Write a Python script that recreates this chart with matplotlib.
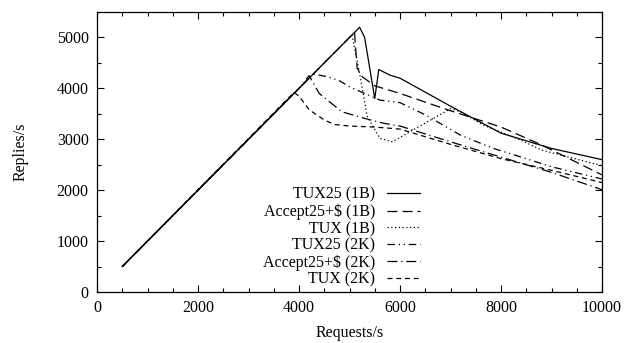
import matplotlib
matplotlib.use("Agg")
import matplotlib.pyplot as plt
from matplotlib.ticker import MultipleLocator

plt.rcParams['font.family'] = ['Liberation Serif', 'DejaVu Serif']

# series data (requests/s -> replies/s)
tux25_1b_x = [500, 5200, 5300, 5500, 5580, 5800, 6000, 7000, 8000, 9000, 9500, 10000]
tux25_1b_y = [500, 5200, 5000, 3800, 4370, 4260, 4200, 3650, 3120, 2820, 2710, 2600]

acc25_1b_x = [500, 5100, 5150, 5250, 5500, 6000, 7000, 8000, 8800, 10000]
acc25_1b_y = [500, 5100, 4400, 4230, 4050, 3900, 3560, 3240, 2890, 2300]

tux_1b_x = [500, 5050, 5200, 5350, 5600, 5850, 6200, 7000, 7200, 7650, 8400, 8800, 10000]
tux_1b_y = [500, 5050, 4300, 3450, 3020, 2950, 3150, 3600, 3540, 3280, 2980, 2790, 2480]

tux25_2k_x = [500, 4150, 4300, 4600, 4800, 5000, 5300, 5600, 6000, 6500, 7200, 7850, 8400, 9000, 10000]
tux25_2k_y = [500, 4150, 4280, 4220, 4150, 4030, 3900, 3770, 3720, 3480, 3080, 2820, 2650, 2460, 2220]

acc25_2k_x = [500, 4000, 4200, 4400, 4650, 4850, 5300, 5700, 6000, 7000, 8000, 9000, 10000]
acc25_2k_y = [500, 4000, 4250, 3900, 3700, 3540, 3410, 3310, 3260, 2950, 2650, 2350, 2010]

tux_2k_x = [500, 3900, 4000, 4200, 4500, 4700, 5000, 5500, 6000, 7000, 8000, 9000, 10000]
tux_2k_y = [500, 3920, 3850, 3580, 3380, 3290, 3260, 3240, 3200, 2900, 2620, 2390, 2150]

labels = ['TUX25 (1B)', 'Accept25+$ (1B)', 'TUX (1B)',
          'TUX25 (2K)', 'Accept25+$ (2K)', 'TUX (2K)']

fig = plt.figure(figsize=(6.24, 3.43), dpi=100)
ax = fig.add_axes([97/624, 1 - 292/343, (602-97)/624, (292-12)/343])

lw = 0.9
ax.plot(tux25_1b_x, tux25_1b_y, color='black', lw=lw, label=labels[0])
ax.plot(acc25_1b_x, acc25_1b_y, color='black', lw=lw, dashes=(8, 4), label=labels[1])
ax.plot(tux_1b_x, tux_1b_y, color='black', lw=lw, dashes=(1, 2), label=labels[2])
ax.plot(tux25_2k_x, tux25_2k_y, color='black', lw=lw,
        dashes=(6, 3, 1, 3, 1, 3), label=labels[3])
ax.plot(acc25_2k_x, acc25_2k_y, color='black', lw=lw,
        dashes=(8, 3, 1, 3), label=labels[4])
ax.plot(tux_2k_x, tux_2k_y, color='black', lw=lw, dashes=(4, 3), label=labels[5])

ax.set_xlim(0, 10000)
ax.set_ylim(0, 5500)
ax.xaxis.set_major_locator(MultipleLocator(2000))
ax.xaxis.set_minor_locator(MultipleLocator(500))
ax.yaxis.set_major_locator(MultipleLocator(1000))
ax.yaxis.set_minor_locator(MultipleLocator(500))
ax.tick_params(which='both', direction='in', top=True, right=True, labelsize=11.5)
ax.tick_params(which='major', length=5, width=0.8, pad=6)
ax.tick_params(which='minor', length=3, width=0.8)
for s in ax.spines.values():
    s.set_linewidth(0.9)

ax.set_xlabel('Requests/s', fontsize=11.5, labelpad=6)
ax.set_ylabel('Replies/s', fontsize=11.5, labelpad=20)

ax.legend(loc='lower right', bbox_to_anchor=(0.64, 0.015), frameon=False,
          markerfirst=False, fontsize=11.5, handlelength=2.1,
          handletextpad=0.7, labelspacing=0.05, borderpad=0, borderaxespad=0)

fig.savefig('out.png', dpi=100)
